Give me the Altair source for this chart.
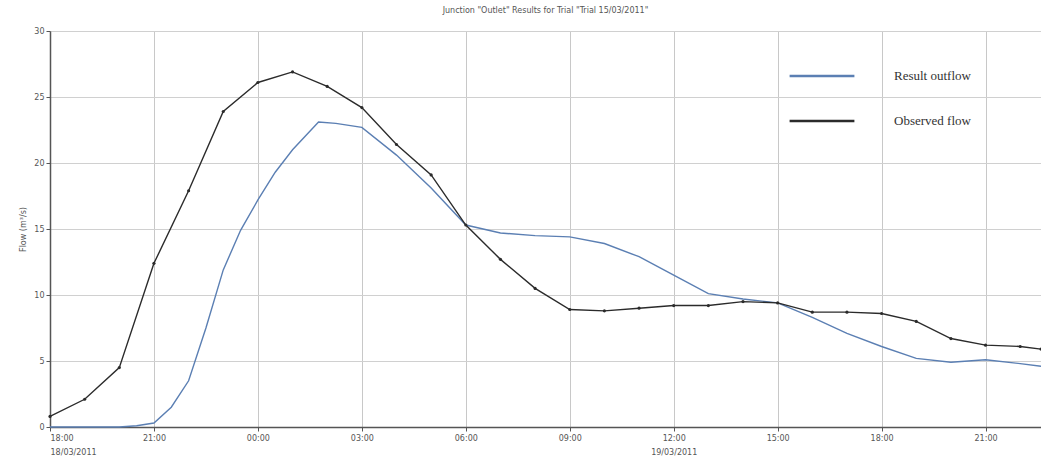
import altair as alt
import pandas as pd

# ---- data (hours since 18:00 on 18/03/2011) ----
obs_hours = [0, 1, 2, 3, 4, 5, 6, 7, 8, 9, 10, 11, 12, 13, 14, 15, 16, 17, 18, 19,
             20, 21, 22, 23, 24, 25, 26, 27, 28, 28.6]
obs_flow = [0.8, 2.1, 4.5, 12.4, 17.9, 23.9, 26.1, 26.9, 25.8, 24.2, 21.4, 19.1, 15.3,
            12.7, 10.5, 8.9, 8.8, 9.0, 9.2, 9.2, 9.5, 9.4, 8.7, 8.7, 8.6, 8.0, 6.7,
            6.2, 6.1, 5.9]

res_hours = [0, 1, 2, 2.5, 3, 3.5, 4, 4.5, 5, 5.5, 6, 6.5, 7, 7.75, 8.25, 9, 10, 11,
             12, 13, 14, 15, 16, 17, 18, 19, 20, 21, 22, 23, 24, 25, 26, 27, 28, 28.6]
res_flow = [0.0, 0.0, 0.0, 0.1, 0.3, 1.5, 3.5, 7.5, 11.9, 14.9, 17.2, 19.3, 21.0, 23.1,
            23.0, 22.7, 20.6, 18.1, 15.3, 14.7, 14.5, 14.4, 13.9, 12.9, 11.5, 10.1,
            9.7, 9.4, 8.3, 7.1, 6.1, 5.2, 4.9, 5.1, 4.8, 4.6]

series_names = ["Result outflow", "Observed flow"]
series_colors = ["#5b7fb3", "#2b2b2b"]

x_tick_values = [0, 3, 6, 9, 12, 15, 18, 21, 24, 27]
x_tick_labels = ["18:00", "21:00", "00:00", "03:00", "06:00", "09:00", "12:00",
                 "15:00", "18:00", "21:00"]
date_labels = {0: "18/03/2011", 18: "19/03/2011"}
y_tick_values = [0, 5, 10, 15, 20, 25, 30]

title_text = 'Junction "Outlet" Results for Trial "Trial 15/03/2011"'
y_title = "Flow (m³/s)"

df = pd.concat([
    pd.DataFrame({"hour": res_hours, "flow": res_flow, "series": series_names[0]}),
    pd.DataFrame({"hour": obs_hours, "flow": obs_flow, "series": series_names[1]}),
])
df_obs = df[df.series == series_names[1]]

# label expression built from the tick lists
parts = []
for v, lab in zip(x_tick_values, x_tick_labels):
    if v in date_labels:
        parts.append(f"datum.value == {v} ? ['{lab}', '{date_labels[v]}']")
    else:
        parts.append(f"datum.value == {v} ? '{lab}'")
label_expr = " : ".join(parts) + " : ''"

x_enc = alt.X("hour:Q", scale=alt.Scale(domain=[0, 28.6], nice=False, zero=False),
              axis=alt.Axis(values=x_tick_values, labelExpr=label_expr, title=None,
                            grid=True, gridColor="#c8c8c8", gridWidth=1,
                            domainColor="#555555", domainWidth=1.5, tickColor="#555555",
                            tickSize=4, labelFontSize=8, labelColor="#555555",
                            labelFont="DejaVu Sans", labelPadding=3, labelLineHeight=14))
y_enc = alt.Y("flow:Q", scale=alt.Scale(domain=[0, 30], nice=False),
              axis=alt.Axis(values=y_tick_values, title=y_title, grid=True,
                            gridColor="#d0d0d0", gridWidth=1,
                            domainColor="#555555", domainWidth=1.5, tickColor="#555555",
                            tickSize=4, labelFontSize=8, labelColor="#555555",
                            labelFont="DejaVu Sans", titleFontSize=8,
                            titleFont="DejaVu Sans", titleFontWeight="normal",
                            titleColor="#555555", titlePadding=6))
color_enc = alt.Color("series:N",
                      scale=alt.Scale(domain=series_names, range=series_colors),
                      legend=alt.Legend(orient="none", legendX=738, legendY=11,
                                        title=None, symbolType="stroke",
                                        symbolSize=4200, symbolStrokeWidth=2.5,
                                        labelFont="Liberation Serif", labelFontSize=13,
                                        labelColor="#333333", rowPadding=4,
                                        labelOffset=38, symbolOffset=0))

lines = alt.Chart(df).mark_line(strokeWidth=1.4).encode(x=x_enc, y=y_enc, color=color_enc)
points = alt.Chart(df_obs).mark_point(filled=True, size=10, opacity=1).encode(
    x="hour:Q", y="flow:Q", color=alt.Color("series:N", scale=alt.Scale(domain=series_names, range=series_colors), legend=None))

chart = alt.layer(lines, points).properties(
    width=991, height=396,
    title=alt.TitleParams(title_text, fontSize=8, font="DejaVu Sans", color="#555555",
                          fontWeight="normal", anchor="middle", offset=12),
    padding={"left": 50, "top": 31, "right": 0, "bottom": 37},
    autosize=alt.AutoSizeParams(type="none"),
).configure_view(stroke=None)

chart.save("out.html", embed_options={"renderer": "svg", "actions": False})
